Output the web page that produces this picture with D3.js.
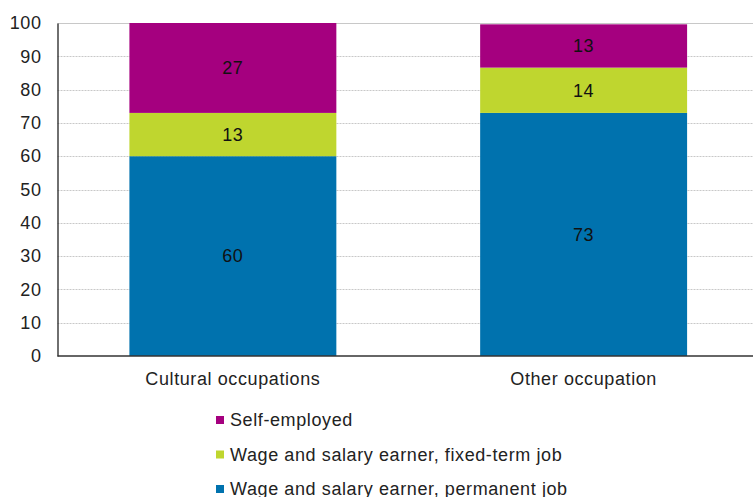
<!DOCTYPE html>
<html lang="en">
<head>
    <meta charset="UTF-8">
    <title>Cultural occupations</title>
    <script src="https://cdn.jsdelivr.net/npm/d3@7/dist/d3.min.js"></script>
    <style>
        body { margin: 0; background: #fff; }
        text { font-family: "Liberation Sans", Arial, sans-serif; fill: #222; letter-spacing: 0.6px; }
    </style>
</head>
<body>
<script>
    // data
    const categories = ['Cultural occupations', 'Other occupation'];
    const permanent = [60, 73];
    const fixedTerm = [13, 13.6];
    const selfEmployed = [27, 13];
    const seriesNames = ['Wage and salary earner, permanent job', 'Wage and salary earner, fixed-term job', 'Self-employed'];
    const seriesColors = ['#0072ae', '#bfd62f', '#a5007f'];
    const yTicks = [0, 10, 20, 30, 40, 50, 60, 70, 80, 90, 100];

    const width = 753;
    const height = 497;
    const margin = {top: 23, right: -6, bottom: 141, left: 57.5};

    const svg = d3.select('body').append('svg')
        .attr('width', width)
        .attr('height', height);

    const rows = categories.map((c, i) => ({
        cat: c,
        permanent: permanent[i],
        fixedTerm: fixedTerm[i],
        selfEmployed: selfEmployed[i]
    }));
    const keys = ['permanent', 'fixedTerm', 'selfEmployed'];
    const stacked = d3.stack().keys(keys)(rows);

    const x = d3.scaleBand()
        .domain(categories)
        .range([margin.left, width - margin.right])
        .paddingInner(0.41)
        .paddingOuter(0.205);

    const y = d3.scaleLinear()
        .domain([0, 100])
        .range([height - margin.bottom, margin.top]);

    // grid
    svg.append('g')
        .selectAll('line')
        .data(yTicks.filter(d => d > 0))
        .join('line')
        .attr('x1', margin.left)
        .attr('x2', width)
        .attr('y1', d => Math.round(y(d)) + 0.5)
        .attr('y2', d => Math.round(y(d)) + 0.5)
        .attr('stroke', '#c8c8c8')
        .attr('stroke-dasharray', d => d === 100 ? null : '2,1');

    // bars
    svg.append('g')
        .selectAll('g')
        .data(stacked)
        .join('g')
        .attr('fill', (d, i) => seriesColors[i])
        .selectAll('rect')
        .data(d => d)
        .join('rect')
        .attr('x', d => x(d.data.cat))
        .attr('width', x.bandwidth())
        .attr('y', d => y(d[1]))
        .attr('height', d => y(d[0]) - y(d[1]));

    // value labels
    svg.append('g')
        .selectAll('g')
        .data(stacked)
        .join('g')
        .selectAll('text')
        .data(d => d)
        .join('text')
        .attr('x', d => x(d.data.cat) + x.bandwidth() / 2)
        .attr('y', d => y((d[0] + d[1]) / 2))
        .attr('dy', '0.35em')
        .attr('text-anchor', 'middle')
        .style('font-size', '18px')
        .style('fill', '#111')
        .text(d => Math.round(d[1] - d[0]));

    // y axis
    const yAxis = svg.append('g')
        .attr('transform', `translate(${margin.left},0)`)
        .call(d3.axisLeft(y).tickValues(yTicks).tickSize(0).tickPadding(16));
    yAxis.select('.domain').attr('stroke', '#222').attr('stroke-width', 1.3);
    yAxis.selectAll('text').style('font-size', '18px').attr('fill', '#222');

    // x axis
    const xAxis = svg.append('g')
        .attr('transform', `translate(0,${y(0)})`)
        .call(d3.axisBottom(x).tickSize(0).tickPadding(16));
    xAxis.select('.domain').attr('d', `M${margin.left},0H${width}`).attr('stroke', '#333').attr('stroke-width', 1.6);
    xAxis.selectAll('text').style('font-size', '18px').attr('fill', '#222');

    // legend
    const legend = svg.append('g')
        .selectAll('g')
        .data(seriesNames.map((n, i) => ({name: n, color: seriesColors[i]})).reverse())
        .join('g')
        .attr('transform', (d, i) => `translate(216,${420 + i * 34.5})`);
    legend.append('rect')
        .attr('x', 0)
        .attr('y', -4)
        .attr('width', 8)
        .attr('height', 8)
        .attr('fill', d => d.color);
    legend.append('text')
        .attr('x', 14)
        .attr('dy', '0.35em')
        .style('font-size', '18px')
        .text(d => d.name);
</script>
</body>
</html>
